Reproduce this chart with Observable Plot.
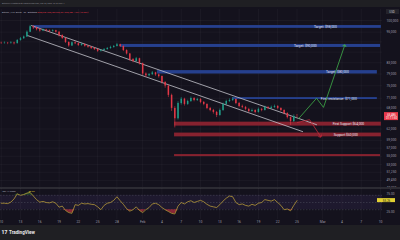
<!DOCTYPE html>
<html>
<head>
<meta charset="utf-8">
<script src="https://cdn.jsdelivr.net/npm/d3@7"></script>
<script src="https://cdn.jsdelivr.net/npm/@observablehq/plot@0.6"></script>
<style>
html,body{margin:0;padding:0}
body{width:400px;height:240px;overflow:hidden;position:relative;background:#14121d;font-family:Roboto,"Liberation Sans",sans-serif}
.abs{position:absolute;left:0}
#sep{top:187px;width:400px;height:1.5px;background:#2c2b33}
</style>
</head>
<body>
<div id="hdr" class="abs" style="top:0"></div>
<div id="price" class="abs" style="top:9px"></div>
<div id="sep" class="abs"></div>
<div id="rsi" class="abs" style="top:188px"></div>
<div id="foot" class="abs" style="top:225px"></div>
<script>
// ---------- data ----------
const headerText = "BitcoinFX created with TradingView.com, Feb 25, 2026 15:48 UTC+4";
const symbolText = "Bitcoin / U.S. Dollar · 2h · Bitstamp";
const ohlcText = "O65,640 H65,702 L65,401 C65,486 −154 (−0.23%)";

const candleStart = "2026-01-10T00:00Z"; // 12-hour candles
const firstOpenK = 90.5;
const closeK = [90.4, 90.5, 90.4, 90.6, 90.3, 91.6, 92.3, 93.0, 95.0, 97.3,
  96.8, 96.0, 95.5, 95.9, 95.6, 95.3, 95.6, 95.0, 93.6, 92.4,
  90.8, 89.4, 90.7, 90.3, 89.6, 90.0, 89.3, 88.9, 88.4, 88.0,
  87.3, 87.6, 88.0, 88.4, 88.8, 89.2, 89.9, 89.2, 87.6, 86.3,
  84.2, 83.5, 84.5, 82.7, 79.0, 78.4, 78.8, 79.4, 78.7, 78.1,
  76.1, 74.9, 71.9, 67.9, 64.9, 69.4, 70.7, 69.1, 70.0, 70.9,
  70.3, 70.6, 69.7, 69.1, 67.9, 67.3, 66.7, 65.8, 67.3, 69.1,
  70.0, 70.3, 70.6, 69.4, 68.5, 68.2, 67.6, 67.0, 67.3, 66.7,
  67.6, 67.3, 68.2, 67.9, 68.2, 68.5, 67.9, 67.3, 66.4, 65.2,
  64.1, 65.5, 65.486];
const highK = [90.9, 91.0, 90.8, 91.1, 90.9, 91.9, 92.8, 93.4, 95.5, 97.9,
  97.6, 97.0, 96.4, 96.3, 96.2, 95.9, 96.0, 95.8, 95.2, 93.9,
  92.6, 91.0, 91.0, 91.1, 90.6, 90.5, 90.2, 89.6, 89.2, 88.8,
  88.3, 88.0, 88.4, 88.8, 89.3, 89.6, 90.4, 90.1, 89.4, 87.9,
  86.5, 84.6, 85.0, 84.7, 82.9, 79.4, 79.2, 79.9, 79.6, 79.0,
  78.3, 76.4, 75.2, 72.3, 68.4, 69.9, 71.2, 71.0, 70.4, 71.4,
  71.2, 71.0, 70.9, 70.0, 69.3, 68.2, 67.6, 67.0, 67.7, 69.5,
  70.4, 70.8, 71.2, 70.8, 69.7, 68.9, 68.5, 67.9, 67.7, 67.5,
  68.0, 67.9, 68.6, 68.5, 68.6, 68.9, 68.7, 68.1, 67.5, 66.6,
  65.4, 66.0, 66.1];
const lowK = [90.0, 90.1, 89.9, 90.1, 89.8, 90.2, 91.3, 92.0, 92.8, 94.8,
  96.1, 95.5, 95.0, 95.2, 95.1, 94.8, 95.0, 94.6, 93.0, 92.0,
  90.4, 88.9, 89.2, 89.9, 89.2, 89.3, 88.9, 88.5, 88.0, 87.6,
  86.9, 87.0, 87.3, 87.7, 88.1, 88.5, 89.0, 88.8, 87.2, 85.9,
  83.6, 83.0, 83.3, 82.2, 78.5, 77.8, 78.0, 78.5, 78.2, 77.6,
  75.6, 74.2, 71.2, 67.0, 62.3, 64.5, 68.9, 68.6, 68.8, 69.7,
  69.9, 70.0, 69.3, 68.7, 67.5, 66.9, 66.2, 65.2, 65.6, 67.0,
  68.8, 69.7, 70.0, 69.0, 68.1, 67.8, 67.2, 66.6, 66.7, 66.3,
  66.5, 66.9, 67.1, 67.5, 67.6, 67.9, 67.5, 66.9, 66.0, 64.8,
  63.0, 63.8, 65.1];
const rsiValues = [48, 48, 47, 51, 60, 74, 70, 72, 76, 78,
  68, 58, 51, 53, 50, 49, 52, 48, 37, 40,
  28, 22, 20, 44, 42, 48, 46, 47, 45, 44,
  38, 30, 42, 48, 50, 56, 66, 55, 45, 33,
  26, 30, 38, 28, 22, 30, 36, 46, 48, 44,
  36, 30, 25, 20, 18, 40, 50, 46, 52, 55,
  50, 53, 56, 52, 45, 40, 38, 36, 44, 54,
  62, 68, 66, 50, 44, 46, 42, 40, 45, 42,
  48, 50, 58, 56, 54, 58, 50, 42, 30, 32,
  27, 42, 55.26];

const priceTicks = [100000, 95000, 91000, 87000, 83000, 79000, 75000, 71000, 68000, 62000, 59000, 57000, 55000, 53000, 51250, 49450, 47750];
const dateTicks = ["2026-01-10","2026-01-13","2026-01-16","2026-01-19","2026-01-22","2026-01-25","2026-01-28","2026-02-01","2026-02-04","2026-02-07","2026-02-10","2026-02-13","2026-02-16","2026-02-19","2026-02-22","2026-02-25","2026-03-01","2026-03-04","2026-03-07","2026-03-10"];
const rsiTicks = [75, 25];

const bandLabels = ["Target: $98,000", "Target: $90,000", "Target: $80,000", "First resistance: $71,000", "First Support $64,000", "Support $60,000", ""];
const bandStart = ["2026-01-15T00:30Z", "2026-01-28T13:00Z", "2026-02-03T07:00Z", "2026-02-15T00:00Z", "2026-02-05T23:00Z", "2026-02-05T23:00Z", "2026-02-05T23:00Z"];
const bandEnd = ["2026-03-10T03:00Z", "2026-03-10T00:00Z", "2026-03-09T12:00Z", "2026-03-09T12:00Z", "2026-03-10T03:00Z", "2026-03-10T03:00Z", "2026-03-10T00:00Z"];
const bandLow = [96600, 88800, 79000, 70600, 62800, 59900, 54900];
const bandHigh = [97800, 90000, 80200, 71200, 63900, 60900, 55400];
const bandKind = ["target", "target", "target", "target", "support", "support", "support"];
const bandLabelAt = ["2026-03-01T10:00Z", "2026-02-26T07:00Z", "2026-03-03T07:00Z", "2026-03-03T12:00Z", "2026-03-05T00:00Z", "2026-03-04T14:00Z", "2026-03-04T14:00Z"];

const channelUpper = [["2026-01-14T17:00Z", 97800], ["2026-02-28T01:00Z", 63200]];
const channelLower = [["2026-01-14T02:00Z", 93600], ["2026-02-25T21:00Z", 61300]];
const bullPath = [["2026-02-25T06:00Z", 64900], ["2026-02-28T01:00Z", 71000], ["2026-03-01T03:00Z", 68200], ["2026-03-04T10:00Z", 89600]];
const bearPath = [["2026-02-25T01:00Z", 63800], ["2026-02-26T23:00Z", 64600], ["2026-02-28T16:00Z", 60000]];

const countdown = "01:11:50";

// ---------- build ----------
const xDomain = [new Date("2026-01-09T21:23Z"), new Date("2026-03-10T07:12Z")];
const t0 = new Date(candleStart);
const candles = closeK.map((c, i) => ({
  t: d3.utcHour.offset(t0, 12 * i),
  open: (i ? closeK[i - 1] : firstOpenK) * 1000,
  close: c * 1000, high: highK[i] * 1000, low: lowK[i] * 1000
}));
const rsiData = rsiValues.map((v, i) => ({t: d3.utcHour.offset(t0, 12 * i), v}));
const bands = bandLabels.map((label, i) => ({
  label, x1: new Date(bandStart[i]), x2: new Date(bandEnd[i]), lo: bandLow[i], hi: bandHigh[i],
  kind: bandKind[i], lx: new Date(bandLabelAt[i])
}));
const pts = a => a.map(d => ({t: new Date(d[0]), p: d[1]}));
const dticks = dateTicks.map(d => new Date(d + "T00:00Z"));
const last = candles[candles.length - 1];
const lastRsi = rsiData[rsiData.length - 1];
const UP = "#1f9e89", DOWN = "#e23847";
const AX = "#9c9ca8";
const FONT = "Roboto, 'Liberation Sans', sans-serif";

// header bar + symbol legend (behind the transparent plots)
const hdr = d3.select("#hdr").append("svg").attr("width", 400).attr("height", 15);
hdr.append("rect").attr("width", 400).attr("height", 7).attr("fill", "#1f1f23");
hdr.append("text").attr("x", 2).attr("y", 4.3).attr("font-size", 2.1).attr("font-family", FONT)
  .attr("fill", "#8b8b93").text(headerText);
const leg = hdr.append("text").attr("x", 2).attr("y", 12.6).attr("font-size", 2.3).attr("font-family", FONT);
leg.append("tspan").attr("fill", "#b9b9c3").text(symbolText + "   ");
leg.append("tspan").attr("fill", "#e8394a").text(ohlcText);

const price = Plot.plot({
  width: 400, height: 179,
  marginTop: 0, marginBottom: 0, marginLeft: 0, marginRight: 18,
  style: {background: "transparent", fontFamily: FONT, overflow: "visible"},
  x: {type: "utc", domain: xDomain, axis: null, label: null},
  y: {type: "log", domain: [47710, 104965], axis: null, label: null},
  marks: [
    Plot.gridY(priceTicks, {stroke: "#ffffff", strokeOpacity: 0.035}),
    Plot.gridX(dticks, {stroke: "#ffffff", strokeOpacity: 0.035}),
    Plot.rect(bands, {x1: "x1", x2: "x2", y1: "lo", y2: "hi",
      fill: d => d.kind === "target" ? "#26408e" : "#86222f"}),
    Plot.line(pts(channelUpper), {x: "t", y: "p", stroke: "#c4c4cc", strokeWidth: 0.8}),
    Plot.line(pts(channelLower), {x: "t", y: "p", stroke: "#c4c4cc", strokeWidth: 0.8}),
    Plot.ruleX(candles, {x: "t", y1: "low", y2: "high", strokeWidth: 0.6,
      stroke: d => d.close >= d.open ? UP : DOWN}),
    Plot.ruleX(candles, {x: "t", y1: "open", y2: "close", strokeWidth: 1.5,
      stroke: d => d.close >= d.open ? UP : DOWN}),
    Plot.text(bands.filter(d => d.label), {x: "lx", y: d => Math.sqrt(d.lo * d.hi), text: "label",
      fontSize: 3.3, fill: "#e4e7f2"}),
    Plot.line(pts(bullPath), {x: "t", y: "p", stroke: "#3fae49", strokeWidth: 0.8, markerEnd: "arrow"}),
    Plot.line(pts(bearPath), {x: "t", y: "p", stroke: "#c22a3a", strokeWidth: 0.8, markerEnd: "arrow"}),
    Plot.axisY(priceTicks, {anchor: "right", tickSize: 0, tickPadding: 4, fontSize: 3.3, fill: AX,
      tickFormat: d3.format(","), label: null}),
    Plot.rect([last], {x1: () => xDomain[1], x2: () => xDomain[1], y1: "close", y2: "close",
      insetLeft: 2, insetRight: -16, insetTop: -4, insetBottom: -4, fill: "#e8394a"}),
    Plot.text([last], {x: () => xDomain[1], y: "close", dx: 9, textAnchor: "middle", fontSize: 2.9,
      fill: "#ffffff", lineHeight: 1.15, text: d => d3.format(",.0f")(d.close) + "\n" + countdown}),
    Plot.rect([1], {x1: () => xDomain[1], x2: () => xDomain[1], y1: () => 104965, y2: () => 104965,
      insetLeft: 4, insetRight: -17, insetTop: 0, insetBottom: -5, fill: "#24232b"}),
    Plot.text(["USD"], {frameAnchor: "top-right", dx: 9.5, dy: 1.2, text: d => d, fontSize: 2.8, fill: "#c8c8d0", textAnchor: "middle"})
  ]
});
document.getElementById("price").appendChild(price);

const fmtDate = d => d.getUTCDate() === 1 ? d3.utcFormat("%b")(d) : String(d.getUTCDate());
const rsi = Plot.plot({
  width: 400, height: 37,
  marginTop: 0, marginBottom: 6, marginLeft: 0, marginRight: 18,
  style: {background: "transparent", fontFamily: FONT, overflow: "visible"},
  x: {type: "utc", domain: xDomain, axis: null, label: null},
  y: {domain: [2.8, 88.9], axis: null, label: null},
  marks: [
    Plot.gridX(dticks, {stroke: "#ffffff", strokeOpacity: 0.035}),
    Plot.rect([1], {x1: () => xDomain[0], x2: () => xDomain[1], y1: () => 30, y2: () => 70,
      fill: "#7e57c2", fillOpacity: 0.1}),
    Plot.ruleY([70, 50, 30], {stroke: "#787b86", strokeOpacity: 0.55, strokeWidth: 0.5, strokeDasharray: "1.5,1.5"}),
    Plot.areaY(rsiData, {x: "t", y1: 30, y2: d => Math.min(d.v, 30), fill: "#e8394a", fillOpacity: 0.55}),
    Plot.areaY(rsiData, {x: "t", y1: 70, y2: d => Math.max(d.v, 70), fill: "#3fae49", fillOpacity: 0.3}),
    Plot.line(rsiData, {x: "t", y: "v", stroke: "#c9a93a", strokeWidth: 0.7}),
    Plot.axisY(rsiTicks, {anchor: "right", tickSize: 0, tickPadding: 4, fontSize: 3.2, fill: AX,
      tickFormat: d => d.toFixed(2), label: null}),
    Plot.rect([lastRsi], {x1: () => xDomain[1], x2: () => xDomain[1], y1: "v", y2: "v",
      insetLeft: -5, insetRight: -13, insetTop: -2, insetBottom: -2, fill: "#e2d033"}),
    Plot.text([lastRsi], {x: () => xDomain[1], y: "v", dx: 4, textAnchor: "middle", fontSize: 3,
      fill: "#1a1a1a", text: d => d.v.toFixed(2)}),
    Plot.text(["RSI 14 close"], {frameAnchor: "top-left", dx: 2, dy: 2, text: d => d, fontSize: 2.4, fill: "#b9b9c3"}),
    Plot.text([lastRsi], {frameAnchor: "top-left", dx: 28, dy: 2, text: d => d.v.toFixed(2), fontSize: 2.4, fill: "#e2d033"}),
    Plot.axisX(dticks, {anchor: "bottom", tickSize: 0, tickPadding: 1.5, fontSize: 3.4, fill: AX,
      tickFormat: fmtDate, label: null})
  ]
});
document.getElementById("rsi").appendChild(rsi);

const ft = d3.select("#foot").append("svg").attr("width", 400).attr("height", 15);
ft.append("rect").attr("width", 400).attr("height", 15).attr("fill", "#1f1f23");
ft.append("text").attr("x", 1.5).attr("y", 9).attr("font-size", 5).attr("font-weight", 900)
  .attr("font-family", FONT).attr("fill", "#e8e8ea").text("17");
ft.append("text").attr("x", 9).attr("y", 9).attr("font-size", 4.6).attr("font-weight", 700)
  .attr("font-family", FONT).attr("fill", "#e8e8ea").text("TradingView");
</script>
</body>
</html>
